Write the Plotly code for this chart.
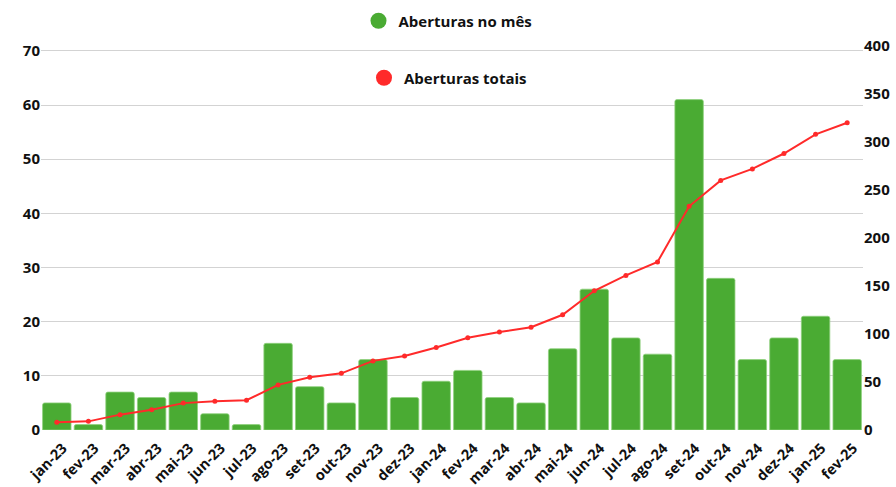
import plotly.graph_objects as go

months = ["jan-23", "fev-23", "mar-23", "abr-23", "mai-23", "jun-23", "jul-23", "ago-23",
          "set-23", "out-23", "nov-23", "dez-23", "jan-24", "fev-24", "mar-24", "abr-24",
          "mai-24", "jun-24", "jul-24", "ago-24", "set-24", "out-24", "nov-24", "dez-24",
          "jan-25", "fev-25"]
monthly = [5, 1, 7, 6, 7, 3, 1, 16, 8, 5, 13, 6, 9, 11, 6, 5, 15, 26, 17, 14, 61, 28, 13, 17, 21, 13]
total = [8, 9, 16, 21, 28, 30, 31, 47, 55, 59, 72, 77, 86, 96, 102, 107, 120, 145, 161, 175,
         233, 260, 272, 288, 308, 320]

GREEN = "#4aab33"
RED = "#ff2a2a"
FONT = "Open Sans"

fig = go.Figure()
fig.add_trace(go.Bar(
    x=months, y=monthly, name="Aberturas no mês", yaxis="y",
    marker=dict(color=GREEN, line=dict(color="#8fd17d", width=0.8), cornerradius=2),
    showlegend=False,
))
fig.add_trace(go.Scatter(
    x=months, y=total, name="Aberturas totais", yaxis="y2", mode="lines+markers",
    line=dict(color=RED, width=2), marker=dict(color=RED, size=5),
    showlegend=False,
))
# legend entries with circle markers
fig.add_trace(go.Scatter(
    x=[None], y=[None], mode="markers", name="Aberturas no mês",
    marker=dict(color=GREEN, size=16, symbol="circle"), legend="legend",
))
fig.add_trace(go.Scatter(
    x=[None], y=[None], mode="markers", name="Aberturas totais",
    marker=dict(color=RED, size=16, symbol="circle"), legend="legend2", yaxis="y2",
))

xtickfont = dict(family=FONT, size=14.5, color="#111111", weight="bold")
ytickfont = dict(family=FONT, size=15, color="#111111", weight="bold")
legfont = dict(family=FONT, size=15, color="#111111", weight="bold")

fig.update_layout(
    width=896, height=487,
    margin=dict(l=41, r=33, t=46, b=57, autoexpand=False),
    plot_bgcolor="white", paper_bgcolor="white",
    bargap=0.1,
    font=dict(family=FONT, color="#111111"),
    xaxis=dict(type="category", tickangle=-45, tickfont=xtickfont, showgrid=False,
               showline=False, ticks="", range=[-0.5, 25.5],
               tickmode="array", tickvals=months, ticktext=months,
               ticklabelstandoff=6, ticklabelshift=6),
    yaxis=dict(range=[0, 70.9], dtick=10, tick0=0, showgrid=True, gridcolor="#d3d3d3",
               gridwidth=1, zeroline=False, tickfont=ytickfont, ticks=""),
    yaxis2=dict(range=[0, 400], dtick=50, tick0=0, overlaying="y", side="right",
                showgrid=False, zeroline=False, tickfont=ytickfont, ticks=""),
    legend=dict(x=0.5, xref="container", xanchor="center", y=1 - 21 / 487, yref="container",
                yanchor="middle", itemsizing="trace", bgcolor="rgba(0,0,0,0)", font=legfont),
    legend2=dict(x=0.5, xref="container", xanchor="center", y=1 - 78 / 487, yref="container",
                 yanchor="middle", itemsizing="trace", bgcolor="rgba(0,0,0,0)", font=legfont),
)

fig.write_html("out.html", config={"displayModeBar": False},
               post_script="document.body.style.margin='0';document.body.style.overflow='hidden';")
